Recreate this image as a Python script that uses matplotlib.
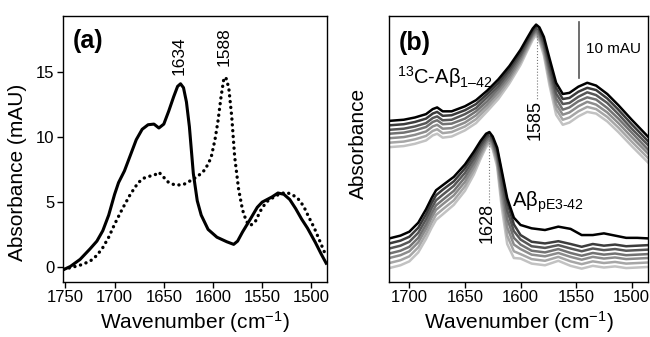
"""
FTIR amide-I spectra: (a) Abeta pE3-42 (solid) vs 13C-Abeta1-42 (dotted),
(b) time series of both, stacked, black = last spectrum.
"""
import matplotlib
matplotlib.use("Agg")
import matplotlib.pyplot as plt

plt.rcParams["font.family"] = ["Liberation Sans", "DejaVu Sans"]
plt.rcParams["mathtext.fontset"] = "custom"
plt.rcParams["mathtext.rm"] = "Liberation Sans"
plt.rcParams["mathtext.it"] = "Liberation Sans:italic"

# ---- panel (a) ------------------------------------------------------------
WN_SOLID = [1752, 1745, 1735, 1725, 1718, 1712, 1706, 1700, 1696, 1690, 1684,
            1678, 1672, 1666, 1660, 1655, 1650, 1645, 1640, 1636, 1633, 1630,
            1627, 1624, 1620, 1616, 1612, 1605, 1596, 1586, 1579, 1575, 1570,
            1562, 1555, 1550, 1545, 1540, 1534, 1528, 1522, 1516, 1510, 1504,
            1496, 1490, 1485]
A_SOLID = [-0.2, 0.05, 0.6, 1.4, 2.0, 2.8, 4.0, 5.6, 6.5, 7.4, 8.6,
           9.8, 10.6, 10.95, 11.0, 10.7, 11.0, 12.0, 13.1, 13.9, 14.1, 13.8,
           12.7, 10.8, 7.2, 5.1, 4.0, 2.9, 2.3, 1.95, 1.75, 2.0, 2.7,
           3.7, 4.6, 5.0, 5.2, 5.4, 5.7, 5.6, 5.2, 4.5, 3.7, 3.0,
           1.9, 1.0, 0.3]

WN_DOT = [1752, 1745, 1735, 1725, 1718, 1712, 1706, 1700, 1692, 1684, 1676,
          1670, 1664, 1659, 1655, 1650, 1645, 1638, 1630, 1624, 1616, 1608,
          1602, 1598, 1595, 1592, 1589, 1587, 1584, 1581, 1578, 1574, 1570,
          1566, 1562, 1557, 1552, 1546, 1540, 1533, 1526, 1520, 1514, 1508,
          1503, 1497, 1492, 1487, 1485]
A_DOT = [-0.15, -0.05, 0.15, 0.45, 0.9, 1.5, 2.3, 3.3, 4.5, 5.6, 6.5,
         6.85, 7.0, 7.1, 7.3, 6.9, 6.5, 6.3, 6.35, 6.6, 6.95, 7.5,
         8.4, 9.8, 11.2, 13.0, 14.5, 14.6, 13.8, 11.6, 8.5, 6.0, 4.4,
         3.5, 3.2, 3.5, 4.3, 5.0, 5.3, 5.6, 5.75, 5.6, 5.3, 4.7,
         3.9, 3.0, 2.1, 1.2, 0.9]

# ---- panel (b): stacked spectra (mAU, arbitrary offset) -------------------
WN_13C = [1718, 1705, 1695, 1685, 1679, 1675, 1670, 1662, 1650, 1640, 1630,
          1620, 1610, 1600, 1594, 1589, 1586, 1583, 1579, 1574, 1568, 1562,
          1556, 1548, 1540, 1532, 1522, 1512, 1500, 1485]
B_13C = [
    [28.8, 29.0, 29.4, 30.0, 30.9, 31.2, 30.5, 30.5, 31.4, 32.5, 34.2, 36.2, 38.6, 41.5, 43.6,
     45.3, 46.0, 45.5, 43.8, 40.0, 35.6, 33.6, 33.8, 34.9, 35.6, 35.1, 33.6, 31.6, 29.0, 25.9],
    [28.0, 28.2, 28.6, 29.2, 30.1, 30.4, 29.7, 29.8, 30.7, 31.8, 33.6, 35.6, 38.1, 41.1, 43.2,
     45.0, 45.7, 45.1, 43.3, 39.2, 34.7, 32.7, 32.9, 34.0, 34.7, 34.3, 32.8, 30.8, 28.2, 25.1],
    [27.2, 27.4, 27.8, 28.4, 29.3, 29.6, 28.9, 29.0, 30.0, 31.1, 33.0, 35.0, 37.6, 40.6, 42.8,
     44.6, 45.4, 44.7, 42.7, 38.4, 33.7, 31.8, 32.0, 33.1, 33.9, 33.4, 32.0, 30.0, 27.4, 24.4],
    [26.5, 26.7, 27.1, 27.7, 28.6, 28.9, 28.2, 28.3, 29.2, 30.5, 32.3, 34.5, 37.0, 40.2, 42.5,
     44.3, 45.0, 44.3, 42.2, 37.6, 32.8, 30.8, 31.2, 32.3, 33.0, 32.6, 31.1, 29.2, 26.7, 23.6],
    [25.7, 25.9, 26.3, 26.9, 27.8, 28.1, 27.4, 27.5, 28.5, 29.8, 31.7, 33.9, 36.5, 39.7, 42.1,
     44.0, 44.7, 43.9, 41.6, 36.8, 31.8, 29.9, 30.3, 31.4, 32.2, 31.7, 30.3, 28.4, 25.9, 22.9],
    [24.9, 25.1, 25.5, 26.1, 27.0, 27.3, 26.6, 26.8, 27.8, 29.1, 31.1, 33.3, 36.0, 39.3, 41.7,
     43.7, 44.4, 43.5, 41.1, 36.0, 30.9, 29.0, 29.4, 30.5, 31.3, 30.9, 29.5, 27.6, 25.1, 22.1],
    [24.1, 24.3, 24.7, 25.3, 26.2, 26.5, 25.8, 26.0, 27.1, 28.4, 30.5, 32.7, 35.5, 38.8, 41.3,
     43.3, 44.1, 43.1, 40.5, 35.2, 29.9, 28.1, 28.5, 29.6, 30.4, 30.1, 28.7, 26.8, 24.3, 21.3],
]

WN_PE = [1718, 1708, 1700, 1692, 1685, 1680, 1676, 1670, 1660, 1650, 1642,
         1636, 1631, 1628, 1625, 1621, 1617, 1612, 1606, 1600, 1590, 1578,
         1566, 1555, 1545, 1535, 1525, 1515, 1505, 1495, 1485]
B_PE = [
    [7.8, 8.3, 9.0, 10.6, 13.0, 15.0, 16.4, 17.3, 18.8, 21.0, 23.3, 25.2, 26.5, 26.8, 26.0, 24.0,
     20.0, 15.0, 11.5, 10.2, 9.6, 9.3, 9.9, 9.5, 8.4, 8.4, 8.7, 8.3, 7.9, 7.9, 7.8],
    [6.9, 7.4, 8.1, 9.7, 12.1, 14.1, 15.5, 16.5, 18.0, 20.3, 22.7, 24.7, 26.1, 26.5, 25.7, 23.6,
     19.5, 14.3, 10.3, 8.4, 7.2, 6.9, 7.3, 6.8, 6.3, 6.8, 6.5, 6.7, 6.4, 6.5, 6.6],
    [6.0, 6.5, 7.2, 8.8, 11.2, 13.2, 14.6, 15.6, 17.2, 19.5, 22.0, 24.2, 25.7, 26.2, 25.3, 23.0,
     18.3, 12.8, 9.1, 7.6, 6.4, 6.1, 6.6, 6.0, 5.5, 6.0, 5.7, 5.9, 5.6, 5.7, 5.8],
    [5.1, 5.6, 6.3, 7.9, 10.3, 12.3, 13.7, 14.7, 16.3, 18.7, 21.3, 23.6, 25.3, 25.8, 24.9, 22.4,
     17.1, 11.3, 7.9, 6.7, 5.6, 5.3, 5.9, 5.2, 4.7, 5.2, 4.9, 5.1, 4.8, 4.9, 5.0],
    [4.3, 4.8, 5.5, 7.1, 9.5, 11.5, 12.9, 13.9, 15.5, 17.9, 20.6, 23.1, 24.9, 25.5, 24.5, 21.8,
     15.9, 9.8, 6.7, 5.9, 4.9, 4.6, 5.2, 4.5, 4.0, 4.5, 4.2, 4.4, 4.1, 4.2, 4.3],
    [3.4, 3.9, 4.6, 6.2, 8.6, 10.6, 12.0, 13.0, 14.6, 17.1, 19.9, 22.5, 24.5, 25.1, 24.1, 21.2,
     14.7, 8.3, 5.5, 5.0, 4.1, 3.8, 4.5, 3.7, 3.2, 3.7, 3.4, 3.6, 3.3, 3.4, 3.5],
    [2.5, 3.0, 3.7, 5.3, 7.7, 9.7, 11.1, 12.1, 13.8, 16.3, 19.2, 22.0, 24.1, 24.8, 23.7, 20.6,
     13.5, 6.8, 4.3, 4.2, 3.3, 3.0, 3.8, 2.9, 2.4, 2.9, 2.6, 2.8, 2.5, 2.6, 2.7],
]
TRACE_COLORS = ["#000000", "#3c3c3c", "#575757", "#727272", "#8c8c8c", "#a6a6a6", "#c2c2c2"]

PEAK_13C, PEAK_PE = 1585, 1628
XTICKS_A = [1750, 1700, 1650, 1600, 1550, 1500]
XTICKS_B = [1700, 1650, 1600, 1550, 1500]
YTICKS_A = [0, 5, 10, 15]


def style_axes(ax):
    for s in ax.spines.values():
        s.set_linewidth(1.0)
    ax.tick_params(direction="out", length=4, width=1.0, labelsize=12, pad=2,
                   top=False, right=False)


def main():
    fig = plt.figure(figsize=(6.5, 3.37), dpi=100)
    ax_a = fig.add_axes([0.097, 0.163, 0.406, 0.789])
    ax_b = fig.add_axes([0.599, 0.163, 0.398, 0.789])

    # (a)
    ax_a.plot(WN_SOLID, A_SOLID, color="black", lw=2.2, solid_joinstyle="round")
    ax_a.plot(WN_DOT, A_DOT, color="black", lw=2.4, ls=(0, (0.05, 1.7)),
              dash_capstyle="round")
    ax_a.set_xlim(1752.4, 1484.2)
    ax_a.set_ylim(-1.15, 19.3)
    ax_a.set_xticks(XTICKS_A)
    ax_a.set_yticks(YTICKS_A)
    style_axes(ax_a)
    ax_a.set_ylabel("Absorbance (mAU)", fontsize=15)
    ax_a.yaxis.set_label_coords(-0.135, 0.414)
    ax_a.set_xlabel("Wavenumber (cm$^{-1}$)", fontsize=15, labelpad=2.5)
    ax_a.text(0.035, 0.905, "(a)", transform=ax_a.transAxes, fontsize=18,
              fontweight="bold", va="center", ha="left")
    ax_a.text(1634.3, 14.8, "1634", rotation=90, ha="center", va="bottom", fontsize=12.5)
    ax_a.text(1588.5, 15.5, "1588", rotation=90, ha="center", va="bottom", fontsize=12.5)

    # (b)
    for group_wn, group in ((WN_13C, B_13C), (WN_PE, B_PE)):
        for vals, col in reversed(list(zip(group, TRACE_COLORS))):
            ax_b.plot(group_wn, vals, color=col, lw=1.8, solid_joinstyle="round")
    ax_b.plot([PEAK_13C, PEAK_13C], [45.6, 32.6], color="#777777", lw=0.8, ls=":")
    ax_b.plot([PEAK_PE, PEAK_PE], [26.5, 14.2], color="#777777", lw=0.8, ls=":")
    ax_b.text(1586.5, 32.5, "1585", rotation=90, ha="center", va="top", fontsize=13)
    ax_b.text(1630.4, 14.1, "1628", rotation=90, ha="center", va="top", fontsize=13)
    # 10 mAU scale bar
    ax_b.plot([1547, 1547], [36.4, 46.4], color="#555555", lw=1.2)
    ax_b.text(1541, 41.6, "10 mAU", ha="left", va="center", fontsize=11)
    ax_b.text(1711, 35.5, r"$^{\mathregular{13}}$C-Aβ$_{\mathregular{1–42}}$",
              ha="left", va="baseline", fontsize=14.5)
    ax_b.text(1608, 13.4, r"Aβ$_{\mathregular{pE3‐42}}$",
              ha="left", va="baseline", fontsize=14.5)
    ax_b.text(0.035, 0.90, "(b)", transform=ax_b.transAxes, fontsize=18,
              fontweight="bold", va="center", ha="left")
    ax_b.set_xlim(1718, 1485.3)
    ax_b.set_ylim(0, 47.5)
    ax_b.set_xticks(XTICKS_B)
    ax_b.set_yticks([])
    style_axes(ax_b)
    ax_b.set_ylabel("Absorbance", fontsize=15)
    ax_b.yaxis.set_label_coords(-0.082, 0.52)
    ax_b.set_xlabel("Wavenumber (cm$^{-1}$)", fontsize=15, labelpad=2.5)

    fig.savefig("out.png", dpi=100)


if __name__ == "__main__":
    main()
